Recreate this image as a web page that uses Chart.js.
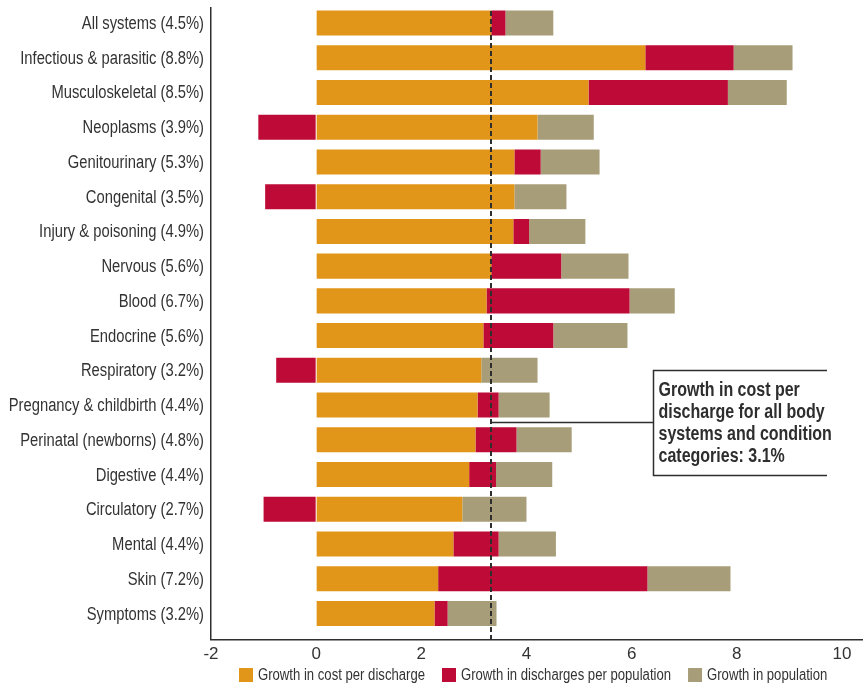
<!DOCTYPE html>
<html>
<head>
<meta charset="utf-8">
<script src="https://cdn.jsdelivr.net/npm/chart.js@4/dist/chart.umd.min.js"></script>
<style>
  html, body { margin: 0; padding: 0; background: #fff; }
</style>
</head>
<body>
<canvas id="growthChart" width="863" height="686"></canvas>
<script>
// Liberation Sans squeezed horizontally stands in for the narrow newspaper face
const FONT = '"Liberation Sans", Arial, sans-serif';
const SQUEEZE = 0.82;

// Data (percent growth)
const categories = [
    'All systems (4.5%)', 'Infectious & parasitic (8.8%)', 'Musculoskeletal (8.5%)',
    'Neoplasms (3.9%)', 'Genitourinary (5.3%)', 'Congenital (3.5%)',
    'Injury & poisoning (4.9%)', 'Nervous (5.6%)', 'Blood (6.7%)',
    'Endocrine (5.6%)', 'Respiratory (3.2%)', 'Pregnancy & childbirth (4.4%)',
    'Perinatal (newborns) (4.8%)', 'Digestive (4.4%)', 'Circulatory (2.7%)',
    'Mental (4.4%)', 'Skin (7.2%)', 'Symptoms (3.2%)'
];
const costPerDischarge = [3.33, 6.26, 5.18, 4.21, 3.77, 3.77, 3.75, 3.33, 3.24, 3.18, 3.14, 3.07, 3.03, 2.91, 2.78, 2.61, 2.32, 2.25];
const dischargesPerPopulation = [0.27, 1.68, 2.65, -1.10, 0.50, -0.97, 0.30, 1.33, 2.72, 1.33, -0.76, 0.40, 0.78, 0.51, -1.00, 0.86, 3.98, 0.25];
const populationGrowth = [0.91, 1.12, 1.12, 1.07, 1.12, 0.99, 1.07, 1.28, 0.86, 1.41, 1.07, 0.97, 1.05, 1.07, 1.22, 1.09, 1.58, 0.93];

const seriesNames = ['Growth in cost per discharge', 'Growth in discharges per population', 'Growth in population'];
const seriesColors = ['#E29619', '#BD0A36', '#A79E79'];
const xTicks = [-2, 0, 2, 4, 6, 8, 10];

// Dashed reference line (where it sits in the picture) and its callout text
const overallCostGrowth = 3.33;
const noteLines = ['Growth in cost per', 'discharge for all body', 'systems and condition', 'categories: 3.1%'];

const INK = '#2e2e2e';

// draw text squeezed horizontally, anchored at (x, y)
function squeezedText(ctx, text, x, y, align, squeeze) {
    ctx.save();
    ctx.translate(x, y);
    ctx.scale(squeeze || SQUEEZE, 1);
    ctx.textAlign = align;
    ctx.fillText(text, 0, 0);
    ctx.restore();
}

// Category labels, legend, dashed reference line and callout box
const decorPlugin = {
    id: 'decor',
    afterDraw(chart) {
        const { ctx, chartArea, scales: { x, y } } = chart;
        ctx.save();

        // category labels
        ctx.fillStyle = '#333';
        ctx.font = '18px ' + FONT;
        ctx.textBaseline = 'middle';
        categories.forEach((label, i) => {
            squeezedText(ctx, label, y.right - 7, y.getPixelForValue(i) + 1, 'right');
        });

        // legend
        ctx.font = '16px ' + FONT;
        let lx = 239;
        const ly = 675;
        seriesNames.forEach((name, i) => {
            ctx.fillStyle = seriesColors[i];
            ctx.fillRect(lx, ly - 7, 14, 14);
            ctx.fillStyle = '#333';
            squeezedText(ctx, name, lx + 19, ly + 1, 'left');
            lx += 19 + ctx.measureText(name).width * SQUEEZE + 17;
        });

        // dashed line
        const rx = Math.round(x.getPixelForValue(overallCostGrowth));
        ctx.strokeStyle = INK;
        ctx.lineWidth = 2;
        ctx.setLineDash([5, 3]);
        ctx.beginPath();
        ctx.moveTo(rx, chartArea.top + 3);
        ctx.lineTo(rx, chartArea.bottom);
        ctx.stroke();

        // callout sits between Pregnancy and Perinatal rows
        ctx.setLineDash([]);
        ctx.lineWidth = 1.5;
        const cy = Math.round(y.getPixelForValue(11.5)) + 0.5;
        const boxL = 653.5, boxR = 827, boxT = cy - 52, boxB = cy + 53;
        ctx.fillStyle = '#fff';
        ctx.fillRect(boxL, boxT, boxR - boxL, boxB - boxT);
        ctx.beginPath();
        ctx.moveTo(rx, cy);
        ctx.lineTo(boxL, cy);
        ctx.stroke();
        ctx.beginPath();
        ctx.moveTo(boxR, boxT);
        ctx.lineTo(boxL, boxT);
        ctx.lineTo(boxL, boxB);
        ctx.lineTo(boxR, boxB);
        ctx.stroke();

        ctx.fillStyle = INK;
        ctx.font = 'bold 20px ' + FONT;
        ctx.textBaseline = 'alphabetic';
        noteLines.forEach((line, i) => {
            squeezedText(ctx, line, boxL + 5, boxT + 25 + i * 22, 'left', 0.8);
        });
        ctx.restore();
    }
};

const datasets = [costPerDischarge, dischargesPerPopulation, populationGrowth].map((values, i) => ({
    label: seriesNames[i],
    data: values,
    backgroundColor: seriesColors[i],
    borderWidth: 0,
    barPercentage: 0.72,
    categoryPercentage: 1
}));

new Chart(document.getElementById('growthChart'), {
    type: 'bar',
    data: { labels: categories, datasets: datasets },
    options: {
        indexAxis: 'y',
        responsive: false,
        animation: false,
        devicePixelRatio: 1,
        layout: { padding: { top: 8, bottom: 16, left: 0, right: 0 } },
        plugins: {
            legend: { display: false },
            tooltip: { enabled: false }
        },
        scales: {
            x: {
                stacked: true,
                min: -2,
                max: 10.4,
                afterBuildTicks(scale) {
                    scale.ticks = xTicks.map(v => ({ value: v }));
                },
                grid: { drawOnChartArea: false, drawTicks: false },
                border: { color: INK, width: 1.5 },
                ticks: {
                    color: '#333',
                    font: { family: FONT, size: 17 },
                    padding: 5,
                    maxRotation: 0
                }
            },
            y: {
                stacked: true,
                afterFit(scale) {
                    scale.width = 211;
                },
                // a little room above the first row and below the last one
                afterBuildTicks(scale) {
                    scale._startValue = -0.43;
                    scale._valueRange = 18.18;
                },
                grid: { drawOnChartArea: false, drawTicks: false },
                border: { color: INK, width: 1.5 },
                ticks: { display: false }
            }
        }
    },
    plugins: [decorPlugin]
});
</script>
</body>
</html>
